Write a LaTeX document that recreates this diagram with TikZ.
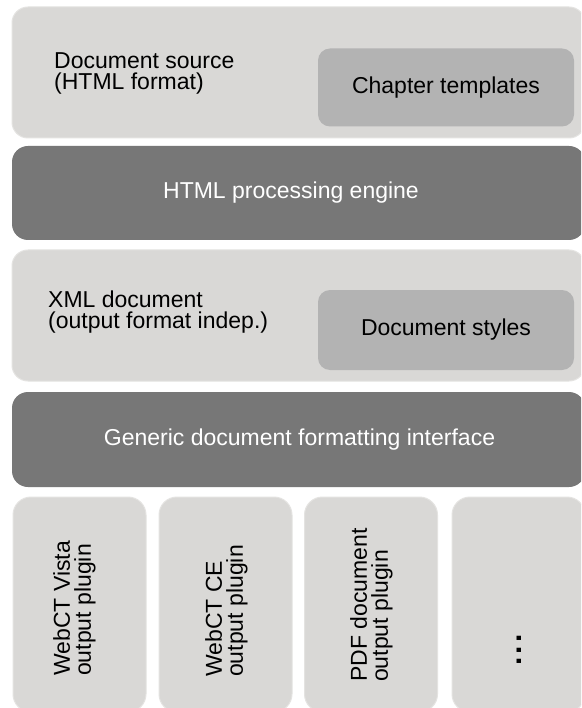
\documentclass[tikz,border=0pt]{standalone}
\usepackage{fontspec}
\setmainfont{Liberation Sans}
\definecolor{layfill}{HTML}{D9D8D6}
\definecolor{layedge}{HTML}{E4E3E1}
\definecolor{innerfill}{HTML}{B3B3B3}
\definecolor{darkfill}{HTML}{777777}
\newcommand\mylabfont{\fontsize{23}{21}\selectfont\lineskiplimit=-100pt\relax}
\begin{document}
\begin{tikzpicture}[x=1pt,y=-1pt,
  lay/.style={rectangle, rounded corners=16pt, fill=layfill, draw=layedge, line width=1pt, inner sep=0pt},
  innerbox/.style={rectangle, rounded corners=12pt, fill=innerfill, inner sep=0pt, font=\mylabfont, text=black},
  darkbox/.style={rectangle, rounded corners=16pt, fill=darkfill, inner sep=0pt},
  plug/.style={rectangle, rounded corners=18pt, fill=layfill, draw=layedge, line width=1pt, inner sep=0pt, minimum width=133, minimum height=215},
  lbl/.style={inner sep=0pt, font=\mylabfont, text=black},
  wlbl/.style={inner sep=0pt, font=\mylabfont, text=white},
  vlbl/.style={inner sep=0pt, font=\mylabfont, text=black, rotate=90, anchor=north west, align=left}]
\path[fill=white, use as bounding box] (0,0) rectangle (581,708);
\clip (0,0) rectangle (581,708);

% Layer 1: document source
\node[lay, minimum width=573, minimum height=131] (src) at (298.5,72.5) {};
\node[lbl, anchor=north west, align=left] (srclbl) at (54,52.5) {Document source\\(HTML format)};
\node[innerbox, minimum width=256, minimum height=78] (chap) at (446,87.5) {Chapter templates};

% Layer 2: HTML processing engine
\node[darkbox, minimum width=573, minimum height=94] (eng) at (298.5,193) {};
\node[wlbl] (englbl) at (291,193) {HTML processing engine};

% Layer 3: XML document
\node[lay, minimum width=573, minimum height=131] (xml) at (298.5,315.5) {};
\node[lbl, anchor=north west, align=left] (xmllbl) at (48,291) {XML document\\(output format indep.)};
\node[innerbox, minimum width=256, minimum height=80] (sty) at (446,330) {Document styles};

% Layer 4: generic interface
\node[darkbox, minimum width=573, minimum height=95] (gen) at (298.5,439.5) {};
\node[wlbl] (genlbl) at (299.5,439.5) {Generic document formatting interface};

% Layer 5: plugins
\node[plug] (p1) at (79.5,604.5) {};
\node[plug] (p2) at (225.5,604.5) {};
\node[plug] (p3) at (371,604.5) {};
\node[plug] (p4) at (518.5,604.5) {};
\node[vlbl] (p1lbl) at (53,676) {WebCT Vista\\output plugin};
\node[vlbl] (p2lbl) at (205,677) {WebCT CE\\output plugin};
\node[vlbl] (p3lbl) at (350,682) {PDF document\\output plugin};
\node[inner sep=0pt, font=\fontsize{30}{30}\selectfont\bfseries, rotate=90] (p4lbl) at (519,650) {.\kern3pt.\kern3pt.};
\end{tikzpicture}
\end{document}
